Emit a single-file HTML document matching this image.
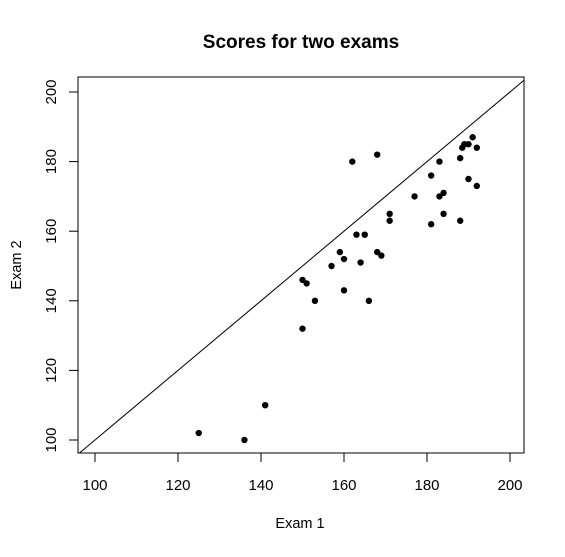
<!DOCTYPE html>
<html><head><meta charset="utf-8"><style>
body{margin:0;background:#fff;}
svg text{font-family:"Liberation Sans",Arial,sans-serif;fill:#000;}
</style></head><body>
<svg id="chart" width="565" height="552" xmlns="http://www.w3.org/2000/svg">
<rect width="565" height="552" fill="#fff"/>
<text x="301" y="48" font-size="19" font-weight="bold" text-anchor="middle">Scores for two exams</text>
<text x="300" y="528" font-size="14.5" text-anchor="middle">Exam 1</text>
<text transform="translate(21,265) rotate(-90)" font-size="14.5" text-anchor="middle">Exam 2</text>
<g id="axes"></g><g id="pts"></g>
</svg>
<script>
const exam1=[125,136,141,150,150,151,153,160,157,159,160,162,163,165,164,166,168,168,169,171,171,177,181,181,183,183,184,184,188,188,188.5,189,190,190,191,192,192];
const exam2=[102,100,110,132,146,145,140,143,150,154,152,180,159,159,151,140,182,154,153,165,163,170,176,162,180,170,171,165,181,163,184,185,185,175,187,184,173];
const xTicks=[100,120,140,160,180,200];
const yTicks=[100,120,140,160,180,200];
const L=78,R=524,T=77,B=453;
const xs=v=>95+(v-100)*4.15;
const ys=v=>440-(v-100)*3.48;
const NS="http://www.w3.org/2000/svg";
const ax=document.getElementById('axes'),pg=document.getElementById('pts');
function mk(tag,at,par){const e=document.createElementNS(NS,tag);for(const k in at)e.setAttribute(k,at[k]);par.appendChild(e);return e;}
const box=mk('rect',{x:L,y:T,width:R-L,height:B-T,fill:'none',stroke:'#000','stroke-width':1},ax);


xTicks.forEach(t=>{mk('line',{x1:xs(t),y1:B,x2:xs(t),y2:B+9,stroke:'#000'},ax);
const tx=mk('text',{x:xs(t),y:B+37,'font-size':15,'text-anchor':'middle'},ax);tx.textContent=t;

});
yTicks.forEach(t=>{mk('line',{x1:L-9,y1:ys(t),x2:L,y2:ys(t),stroke:'#000'},ax);
const tx=mk('text',{transform:`translate(${L-22},${ys(t)}) rotate(-90)`,'font-size':15,'text-anchor':'middle'},ax);tx.textContent=t;

});
const lo=Math.max(100+(L-95)/4.15,100+(440-B)/3.48), hi=Math.min(100+(R-95)/4.15,100+(440-T)/3.48);
const ln=mk('line',{x1:xs(lo),y1:ys(lo),x2:xs(hi),y2:ys(hi),stroke:'#000','stroke-width':1},ax);


exam1.forEach((v,i)=>{const c=mk('circle',{cx:xs(v),cy:ys(exam2[i]),r:3.2,fill:'#000'},pg);

});
</script>
</body></html>
